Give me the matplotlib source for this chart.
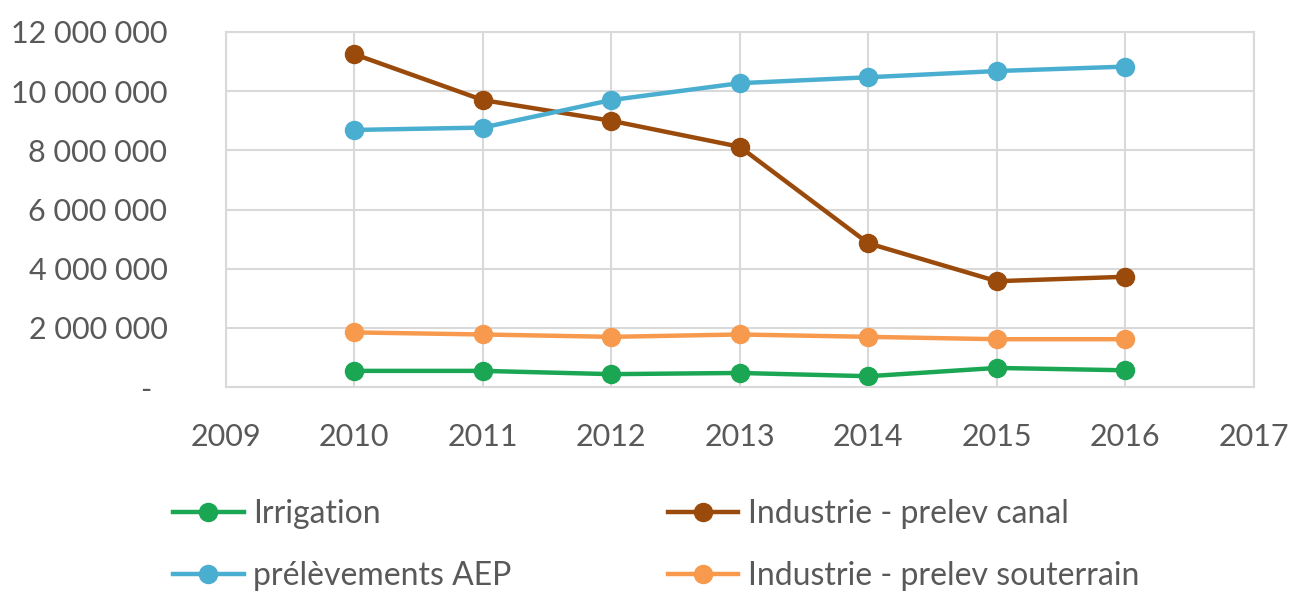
import matplotlib.pyplot as plt
from matplotlib.ticker import FuncFormatter
import numpy as np

# Data
years = [2010, 2011, 2012, 2013, 2014, 2015, 2016]
irrigation = [550000, 550000, 440000, 480000, 370000, 650000, 570000]
aep = [8690000, 8770000, 9700000, 10270000, 10470000, 10680000, 10830000]
canal = [11250000, 9700000, 9000000, 8120000, 4860000, 3580000, 3730000]
souterrain = [1850000, 1780000, 1700000, 1780000, 1700000, 1620000, 1620000]

plt.rcParams['font.family'] = ['Lato', 'DejaVu Sans']
grey_txt = '#595959'
grid_c = '#d9d9d9'

fig = plt.figure(figsize=(12.9, 5.92), dpi=100)
ax = fig.add_axes([0.175, 0.346, 0.797, 0.600])

lw, ms = 3.2, 13
l1, = ax.plot(years, irrigation, color='#1aa653', lw=lw, marker='o', ms=ms, label='Irrigation')
l2, = ax.plot(years, canal, color='#9a4a0a', lw=lw, marker='o', ms=ms, label='Industrie - prelev canal')
l3, = ax.plot(years, aep, color='#4aaed0', lw=lw, marker='o', ms=ms, label='prélèvements AEP')
l4, = ax.plot(years, souterrain, color='#f79a4e', lw=lw, marker='o', ms=ms, label='Industrie - prelev souterrain')

ax.set_xlim(2009, 2017)
ax.set_ylim(0, 12000000)
ax.set_xticks(np.arange(2009, 2018, 1))
ax.set_yticks(np.arange(0, 12000001, 2000000))

def fmt(v, pos):
    if v == 0:
        return '-  '
    return f"{int(v):,}".replace(',', ' ')

ax.yaxis.set_major_formatter(FuncFormatter(fmt))
ax.grid(True, color=grid_c, lw=1.5)
ax.set_axisbelow(True)
for s in ax.spines.values():
    s.set_color(grid_c)
    s.set_linewidth(1.5)
ax.tick_params(axis='both', length=0, colors=grey_txt, labelsize=22)
ax.tick_params(axis='y', pad=42)
ax.tick_params(axis='x', pad=26)

fig.legend(handles=[l1, l3, l2, l4], ncol=2, loc='upper left',
           bbox_to_anchor=(0.112, 0.205), frameon=False, fontsize=23,
           labelcolor=grey_txt, handlelength=2.2, handletextpad=0.3,
           columnspacing=4.9, labelspacing=1.0)

fig.savefig('out.png', dpi=100)
